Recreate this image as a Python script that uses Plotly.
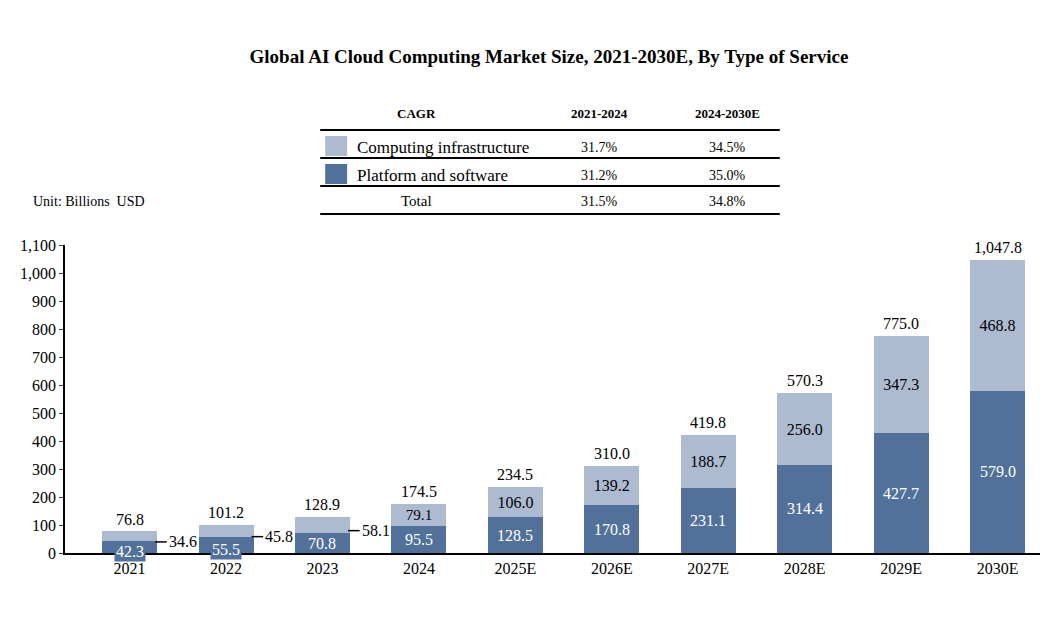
import plotly.graph_objects as go

years = ["2021","2022","2023","2024","2025E","2026E","2027E","2028E","2029E","2030E"]
platform = [42.3,55.5,70.8,95.5,128.5,170.8,231.1,314.4,427.7,579.0]
infra = [34.6,45.8,58.1,79.1,106.0,139.2,188.7,256.0,347.3,468.8]
totals = [76.8,101.2,128.9,174.5,234.5,310.0,419.8,570.3,775.0,1047.8]
cagr_rows = ["Computing infrastructure","Platform and software","Total"]
cagr_2124 = ["31.7%","31.2%","31.5%"]
cagr_2430 = ["34.5%","35.0%","34.8%"]

DARK = "#52719a"; LIGHT = "#adbbd1"
FONT = "Liberation Serif"
OFF = 8  # page body margin
xs = list(range(len(years)))
W = 0.57
fig = go.Figure()
fig.add_bar(x=xs, y=platform, marker_color=DARK, width=W, name="Platform and software")
fig.add_bar(x=xs, y=infra, marker_color=LIGHT, width=W, name="Computing infrastructure",
            text=[f"{v:.1f}" if i >= 3 else "" for i, v in enumerate(infra)],
            textposition="inside", insidetextanchor="middle",
            textfont=dict(color="black", size=16, family=FONT))
fig.update_traces(marker_line_width=0, cliponaxis=False)

ann = []; shapes = []
for i in xs:
    ann.append(dict(x=i, y=totals[i], text=f"{totals[i]:,.1f}", showarrow=False, yanchor="bottom",
                    yshift=2, font=dict(size=16, family=FONT, color="black")))
    ann.append(dict(x=i, y=platform[i] / 2, text=f"{platform[i]:.1f}", showarrow=False,
                    yanchor="middle", bgcolor=DARK if i < 2 else "rgba(0,0,0,0)", borderpad=1,
                    yshift=-4 if i < 2 else 0,
                    font=dict(size=16, family=FONT, color="white")))
    if i < 3:
        ymid = platform[i] + infra[i] / 2 - 20
        shapes.append(dict(type="line", x0=i + W/2 - 0.02, x1=i + W/2 + 0.1, y0=ymid, y1=ymid,
                           line=dict(color="black", width=1.5)))
        ann.append(dict(x=i + W/2 + 0.1, y=ymid, text=f"{infra[i]:.1f}", showarrow=False,
                        xanchor="left", font=dict(size=16, family=FONT, color="black")))

L, T, PW, PH = 62 - OFF, 245 - OFF, 978, 308
def px(x): return (x - OFF - L) / PW
def py(y): return (T + PH - (y - OFF)) / PH

for yy in [130, 158, 186, 214]:
    shapes.append(dict(type="line", xref="paper", yref="paper", x0=px(318), x1=px(779),
                       y0=py(yy), y1=py(yy), line=dict(color="black", width=2)))
for (y0, c) in [(136, LIGHT), (164, DARK)]:
    shapes.append(dict(type="rect", xref="paper", yref="paper", x0=px(323), x1=px(345),
                       y0=py(y0), y1=py(y0 + 20), fillcolor=c, line_width=0))

def pa(x, y, t, size=15, anchor="center", bold=False):
    ann.append(dict(xref="paper", yref="paper", x=px(x), y=py(y), text=f"<b>{t}</b>" if bold else t,
                    showarrow=False, xanchor=anchor, yanchor="middle",
                    font=dict(size=size, family=FONT, color="black")))

pa(415, 113, "CAGR", 13, bold=True)
pa(598, 113, "2021-2024", 13, bold=True)
pa(727, 113, "2024-2030E", 13, bold=True)
for r, yy in enumerate([147, 175, 201]):
    if r < 2:
        pa(353, yy, cagr_rows[r], 17, anchor="left")
    else:
        pa(415, yy, cagr_rows[r], 15)
    pa(598, yy, cagr_2124[r], 14)
    pa(727, yy, cagr_2430[r], 14)
pa(28, 201, "Unit: Billions  USD", 14, anchor="left")

fig.update_layout(
    barmode="stack", width=1056, height=620, showlegend=False,
    margin=dict(l=L, r=1056 - L - PW, t=T, b=620 - T - PH),
    paper_bgcolor="white", plot_bgcolor="white",
    title=dict(text="<b>Global AI Cloud Computing Market Size, 2021-2030E, By Type of Service</b>",
               x=(549 - OFF) / 1056, xanchor="center", y=1 - (56 - OFF) / 620, yanchor="middle",
               font=dict(size=19, family=FONT, color="black")),
    font=dict(family=FONT, color="black"),
    annotations=ann, shapes=shapes,
    xaxis=dict(tickvals=xs, ticktext=years, range=[-0.67, 9.44], showline=True, linecolor="black",
               linewidth=1.5, ticks="", tickfont=dict(size=16, family=FONT), showgrid=False),
    yaxis=dict(range=[0, 1100], dtick=100, tickformat=",", showline=True, linecolor="black",
               linewidth=1.5, ticks="outside", ticklen=4, tickfont=dict(size=16, family=FONT),
               showgrid=False, zeroline=False),
)
fig.write_html("out.html")
